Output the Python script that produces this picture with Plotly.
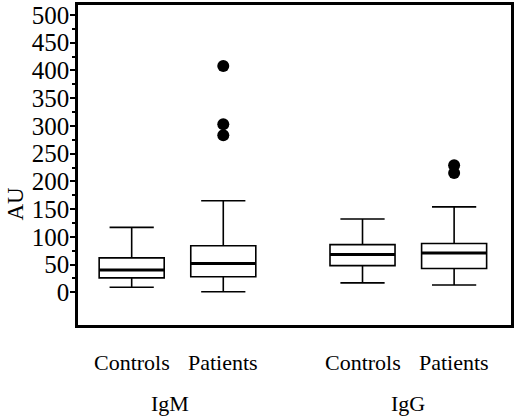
import plotly.graph_objects as go

# ---- data ----
groups = ["IgM", "IgM", "IgG", "IgG"]
subjects = ["Controls", "Patients", "Controls", "Patients"]
lower_whisker = [9, 1, 17, 13]
q1 = [26, 28, 48, 43]
median = [40, 52, 68, 71]
q3 = [62, 84, 86, 88]
upper_whisker = [117, 165, 132, 154]
outlier_box = [1, 1, 1, 3, 3]          # index of the box each outlier belongs to
outlier_values = [408, 303, 283, 229, 215]
y_tick_values = [0, 50, 100, 150, 200, 250, 300, 350, 400, 450, 500]
y_title = "AU"

# ---- layout constants ----
pos = [0.0, 1.0, 2.52, 3.52]
box_w = 0.71
font = "Liberation Serif"
W, H = 520, 418
ML, MR, MT, MB = 78, 9, 5, 93

fig = go.Figure()

fig.add_trace(go.Box(
    x=pos, q1=q1, median=median, q3=q3,
    lowerfence=lower_whisker, upperfence=upper_whisker,
    boxpoints=False, width=box_w, whiskerwidth=0.68,
    fillcolor="white", line=dict(color="black", width=1.6),
    showlegend=False, hoverinfo="skip",
))

# thicker median lines drawn over the boxes
mx, my = [], []
for p, m in zip(pos, median):
    mx += [p - box_w / 2, p + box_w / 2, None]
    my += [m, m, None]
fig.add_trace(go.Scatter(x=mx, y=my, mode="lines",
                         line=dict(color="black", width=3),
                         showlegend=False, hoverinfo="skip"))

fig.add_trace(go.Scatter(
    x=[pos[i] for i in outlier_box], y=outlier_values, mode="markers",
    marker=dict(color="black", size=12, line=dict(width=0)),
    showlegend=False, hoverinfo="skip"))

fig.update_layout(
    width=W, height=H,
    margin=dict(l=ML, r=MR, t=MT, b=MB, autoexpand=False),
    paper_bgcolor="white", plot_bgcolor="white",
    font=dict(family=font, color="black", size=21),
    xaxis=dict(range=[-0.586, 4.141], showgrid=False, zeroline=False,
               showticklabels=False, ticks="",
               showline=True, linecolor="black", linewidth=2.5, mirror=True),
    yaxis=dict(range=[-59, 518], showgrid=False, zeroline=False,
               tickmode="array", tickvals=y_tick_values,
               ticks="outside", ticklen=5, tickwidth=2, tickcolor="black",
               ticklabelstandoff=-4,
               tickfont=dict(size=25, family=font, color="black"),
               showline=True, linecolor="black", linewidth=2.5, mirror=True,
               minor=dict(tickmode="array",
                          tickvals=[v + 25 for v in y_tick_values[:-1]],
                          ticks="outside", ticklen=3, tickwidth=1.5,
                          tickcolor="black")),
)

ph = H - MT - MB
pw = W - ML - MR

# category labels
for p, s in zip(pos, subjects):
    fig.add_annotation(x=p, xref="x", y=-(362 - (H - MB)) / ph, yref="paper",
                       text=s, showarrow=False, yanchor="middle",
                       font=dict(size=22, family=font, color="black"))
# group labels
seen = []
for g in groups:
    if g in seen:
        continue
    seen.append(g)
    idx = [i for i, gg in enumerate(groups) if gg == g]
    cx = sum(pos[i] for i in idx) / len(idx)
    fig.add_annotation(x=cx - (0.08 if g == "IgM" else 0.0), xref="x",
                       y=-(403 - (H - MB)) / ph, yref="paper", text=g,
                       showarrow=False, yanchor="middle",
                       font=dict(size=22, family=font, color="black"))

fig.add_annotation(x=(16 - ML) / pw, xref="paper", xanchor="center",
                   y=160, yref="y", text=y_title, showarrow=False,
                   textangle=-90, font=dict(size=23, family=font, color="black"))

fig.write_html("out.html",
               config={"displayModeBar": False},
               post_script="document.body.style.margin='0';"
                           "document.body.style.padding='0';")
